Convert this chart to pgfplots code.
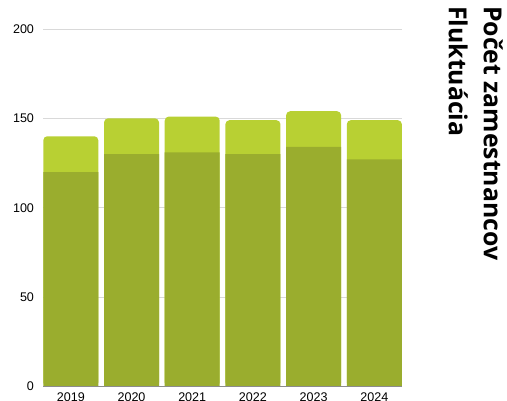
\documentclass[border=0pt]{standalone}
\usepackage{fontspec}
\setmainfont{Liberation Sans}
\newfontfamily\legfont{Open Sans}
\usepackage{pgfplots}
\pgfplotsset{compat=1.18}
\definecolor{empdark}{HTML}{9AAD2E}
\definecolor{fluklight}{HTML}{B8D033}
\definecolor{gridgray}{HTML}{D9D9D9}
\definecolor{basegray}{HTML}{8C8C8C}

\begin{document}
\begin{tikzpicture}[x=1bp,y=1bp]
\useasboundingbox (0,0) rectangle (507,400);
\begin{axis}[
  at={(43bp,13.5bp)}, anchor=south west,
  scale only axis,
  width=359bp, height=357.5bp,
  xmin=-0.458, xmax=5.456,
  ymin=0, ymax=200,
  ytick={0,50,100,150,200},
  xtick={0,1,2,3,4,5},
  xticklabels={2019,2020,2021,2022,2023,2024},
  axis line style={draw=none},
  major tick length=0pt,
  ymajorgrids,
  grid style={gridgray, line width=0.8bp},
  tick label style={font=\fontsize{12.6}{14}\selectfont, text=black},
  yticklabel style={xshift=-5.5bp},
  xticklabel style={yshift=-3bp},
  /pgf/number format/assume math mode=true,
  clip=false,
]
% whole bar (employees + fluctuation), rounded top
\addplot[ybar, bar width=55bp, bar shift=0pt, fill=fluklight, draw=none, rounded corners=4bp]
  coordinates {(0,140) (1,150) (2,151) (3,149) (4,154) (5,149)};
% employees
\addplot[ybar, bar width=55bp, bar shift=0pt, fill=empdark, draw=none]
  coordinates {(0,120) (1,130) (2,131) (3,130) (4,134) (5,127)};
\draw[basegray, line width=0.8bp] (axis cs:-0.458,0) -- (axis cs:5.456,0);
\end{axis}
\node[rotate=-90, anchor=north west, inner sep=0pt, font=\legfont\bfseries\fontsize{24.9}{27}\selectfont]
  at (503,394) {Počet zamestnancov};
\node[rotate=-90, anchor=north west, inner sep=0pt, font=\legfont\bfseries\fontsize{24.9}{27}\selectfont]
  at (468,394) {Fluktuácia};
\end{tikzpicture}
\end{document}
